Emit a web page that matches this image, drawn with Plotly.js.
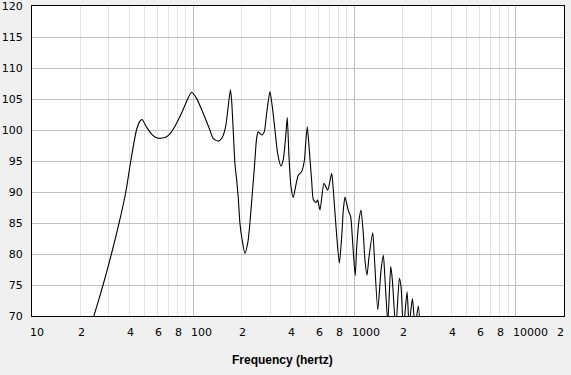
<!DOCTYPE html>
<html>
<head>
<meta charset="utf-8">
<script src="https://cdn.plot.ly/plotly-3.0.1.min.js"></script>
<style>
  html, body { margin: 0; padding: 0; background: #f0f0f0; }
  #chart { width: 571px; height: 375px; }
</style>
</head>
<body>
<div id="chart"></div>
<script>
// Frequency response (Hz, dB)
const freqHz = [
  22.2, 24.2, 27.6, 31.1, 34.7, 38.2, 41.0, 44.5, 46.7, 48.2,
  51.3, 55.2, 59.3, 63.0, 68.4, 73.4, 78.9, 84.7, 91.0, 97.7,
  105.0, 115.4, 127.0, 133.1, 143.0, 151.4, 158.9, 165.0, 170.3, 173.2,
  177.2, 181.6, 186.1, 190.3, 195.0, 200.7, 209.5, 218.8, 225.0, 233.2,
  239.9, 247.6, 253.4, 266.0, 276.1, 285.7, 299.6, 309.6, 321.8, 334.4,
  350.5, 362.2, 374.9, 383.6, 393.0, 404.4, 417.9, 434.5, 449.0, 471.3,
  490.6, 499.1, 510.6, 525.5, 543.9, 556.3, 578.2, 592.5, 612.4, 648.4,
  683.6, 723.8, 740.7, 769.8, 807, 835.1, 854.6, 875.5, 917.8, 949.8,
  977.3, 1013, 1035, 1070, 1100, 1137, 1164, 1199, 1234, 1301,
  1331, 1398, 1465, 1514, 1551, 1613, 1683, 1722, 1808, 1903,
  1950, 2015, 2125, 2187, 2292, 2382, 2497, 2559
];
const levelDb = [
  66.8, 70.0, 75.0, 80.0, 85.0, 90.0, 95.0, 100.0, 101.4, 101.7,
  100.5, 99.35, 98.76, 98.66, 98.9, 99.7, 101.1, 102.7, 104.6, 106.1,
  105.1, 102.7, 100.0, 98.66, 98.2, 98.8, 100.5, 103.8, 106.5, 104.8,
  100.0, 94.6, 92.0, 89.2, 85.0, 82.5, 80.1, 82.0, 85.0, 90.0,
  94.0, 98.7, 99.7, 99.2, 99.7, 102.7, 106.2, 103.8, 100.0, 96.2,
  94.2, 95.2, 98.9, 102.0, 95.7, 90.9, 89.1, 91.2, 92.7, 93.3,
  95.2, 97.9, 100.5, 96.8, 91.7, 88.8, 88.3, 88.7, 87.1, 91.4,
  90.3, 93.0, 90.3, 84.4, 78.5, 82.8, 87.1, 89.2, 87.0, 86.0,
  81.7, 76.5, 81.2, 85.5, 87.1, 83.3, 79.0, 76.6, 79.6, 83.4,
  79.6, 71.0, 77.4, 79.8, 75.8, 69.0, 78.0, 75.8, 68.0, 76.1,
  74.7, 68.0, 73.9, 68.5, 72.8, 68.5, 71.6, 68.0
];

// Axis ticks
const xLabelVals = [10, 20, 40, 60, 80, 100, 200, 400, 600, 800, 1000, 2000, 4000, 6000, 8000, 10000, 20000];
const xLabelText = ['10', '2', '4', '6', '8', '100', '2', '4', '6', '8', '1000', '2', '4', '6', '8', '10000', '2'];
const xMajorVals = [10, 100, 1000, 10000];
const xMinorVals = [20, 30, 40, 50, 60, 70, 80, 90, 200, 300, 400, 500, 600, 700, 800, 900,
                    2000, 3000, 4000, 5000, 6000, 7000, 8000, 9000];
const yTickVals = [70, 75, 80, 85, 90, 95, 100, 105, 110, 115, 120];
const xTitle = 'Frequency (hertz)';

const tickFont = { family: 'DejaVu Sans, Verdana, sans-serif', size: 11, color: '#000000' };

const annotations = xLabelVals.map((v, i) => {
  const last = i === xLabelVals.length - 1;
  return {
    xref: 'x', yref: 'paper',
    x: Math.log10(v), y: 0,
    xanchor: last ? 'right' : 'left',
    yanchor: 'top',
    xshift: last ? 2 : -4.5,
    yshift: -8,
    text: xLabelText[i],
    showarrow: false,
    font: tickFont
  };
});
annotations.push({
  xref: 'paper', yref: 'paper',
  x: 0.47, y: 0,
  xanchor: 'center', yanchor: 'middle',
  yshift: -44,
  text: '<b>' + xTitle + '</b>',
  showarrow: false,
  font: { family: 'Liberation Sans, Arial, sans-serif', size: 12, color: '#000000' }
});

const trace = {
  x: freqHz,
  y: levelDb,
  type: 'scatter',
  mode: 'lines',
  line: { color: '#000000', width: 1.1, shape: 'spline', smoothing: 0.6 },
  hoverinfo: 'skip'
};

const layout = {
  width: 571,
  height: 375,
  margin: { l: 32, r: 7, t: 6, b: 59, pad: 0 },
  paper_bgcolor: '#f0f0f0',
  plot_bgcolor: '#ffffff',
  showlegend: false,
  xaxis: {
    type: 'log',
    range: [1, Math.log10(20000)],
    tickmode: 'array',
    tickvals: xMajorVals,
    showticklabels: false,
    ticks: '',
    showgrid: true,
    gridcolor: '#c0c0c0',
    gridwidth: 1,
    minor: {
      tickmode: 'array',
      tickvals: xMinorVals,
      showgrid: true,
      gridcolor: '#e3e3e3',
      gridwidth: 1,
      ticks: ''
    },
    showline: true,
    linecolor: '#000000',
    linewidth: 1,
    mirror: true,
    zeroline: false,
    fixedrange: true
  },
  yaxis: {
    range: [70, 120],
    tickmode: 'array',
    tickvals: yTickVals,
    ticktext: yTickVals.map(String),
    ticks: '',
    tickfont: tickFont,
    ticklabelstandoff: 6,
    ticklabeloverflow: 'allow',
    showgrid: true,
    gridcolor: '#c0c0c0',
    gridwidth: 1,
    showline: true,
    linecolor: '#000000',
    linewidth: 1,
    mirror: true,
    zeroline: false,
    fixedrange: true
  },
  annotations: annotations
};

Plotly.newPlot('chart', [trace], layout, { displayModeBar: false, staticPlot: true });
</script>
</body>
</html>
